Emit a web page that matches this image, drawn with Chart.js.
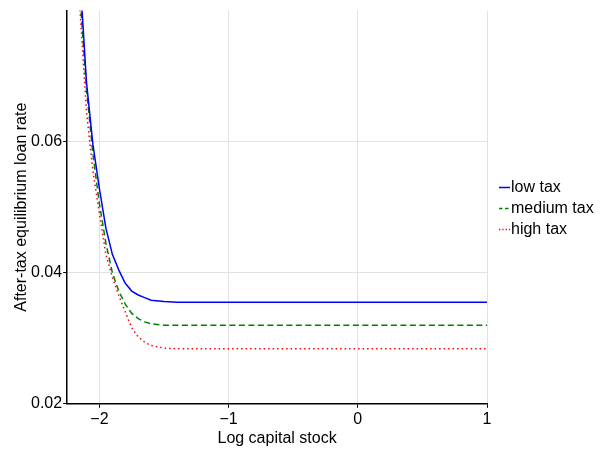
<!DOCTYPE html>
<html>
<head>
<meta charset="utf-8">
<script src="https://cdn.jsdelivr.net/npm/chart.js@4/dist/chart.umd.min.js"></script>
<style>
  html, body { margin: 0; padding: 0; background: #ffffff; }
  #wrap { width: 605px; height: 451px; position: relative; }
</style>
</head>
<body>
<div id="wrap"><canvas id="c" width="605" height="451"></canvas></div>
<script>
// Log capital stock grid
const logCapital = [-2.2, -2.15, -2.1, -2.05, -2.0, -1.95, -1.9, -1.85, -1.8, -1.75, -1.7, -1.65, -1.6,
  -1.5, -1.4, -1.2, -1.0, -0.8, -0.6, -0.4, -0.2, 0.0, 0.2, 0.4, 0.6, 0.8, 1.0];

// After-tax equilibrium loan rate by tax regime
const lowTax = [0.100, 0.085, 0.069, 0.0595, 0.0528, 0.0468, 0.0428, 0.0404, 0.0384, 0.0372, 0.0366, 0.0362, 0.0358,
  0.0356, 0.0355, 0.0355, 0.0355, 0.0355, 0.0355, 0.0355, 0.0355, 0.0355, 0.0355, 0.0355, 0.0355, 0.0355, 0.0355];
const mediumTax = [0.100, 0.082, 0.068, 0.058, 0.0505, 0.0445, 0.0400, 0.0372, 0.0352, 0.0338, 0.0330, 0.0325, 0.0322,
  0.0320, 0.0320, 0.0320, 0.0320, 0.0320, 0.0320, 0.0320, 0.0320, 0.0320, 0.0320, 0.0320, 0.0320, 0.0320, 0.0320];
const highTax = [0.100, 0.080, 0.0645, 0.0555, 0.0490, 0.0428, 0.0393, 0.0365, 0.0340, 0.0316, 0.0302, 0.0294, 0.0289,
  0.0285, 0.0284, 0.0284, 0.0284, 0.0284, 0.0284, 0.0284, 0.0284, 0.0284, 0.0284, 0.0284, 0.0284, 0.0284, 0.0284];

const xTicks = [-2, -1, 0, 1];
const yTicks = [0.02, 0.04, 0.06];
const seriesNames = ['low tax', 'medium tax', 'high tax'];

function pairs(ys) {
  return logCapital.map((x, i) => ({ x: x, y: ys[i] }));
}

const FONT = '"Liberation Sans", Arial, Helvetica, sans-serif';
const GRID = '#e2e2e2';

// Compact legend to the right of the plot: short line sample followed by the label
const sideLegend = {
  id: 'sideLegend',
  afterDraw(chart) {
    const ctx = chart.ctx;
    const area = chart.chartArea;
    const x0 = area.right + 12;
    const rowGap = 21;
    const mid = (area.top + area.bottom) / 2 + 1;
    const n = chart.data.datasets.length;
    ctx.save();
    ctx.font = '16px ' + FONT;
    ctx.textBaseline = 'middle';
    ctx.textAlign = 'left';
    chart.data.datasets.forEach((ds, i) => {
      const y = Math.round(mid + (i - (n - 1) / 2) * rowGap) + 0.5;
      ctx.strokeStyle = ds.borderColor;
      ctx.lineWidth = ds.borderWidth;
      ctx.setLineDash(ds.legendDash || []);
      ctx.beginPath();
      ctx.moveTo(x0, y);
      ctx.lineTo(x0 + 11, y);
      ctx.stroke();
      ctx.setLineDash([]);
      ctx.fillStyle = '#000';
      ctx.fillText(ds.label, x0 + 12, y);
    });
    ctx.restore();
  }
};

new Chart(document.getElementById('c'), {
  type: 'line',
  data: {
    datasets: [
      { label: seriesNames[0], data: pairs(lowTax), borderColor: '#0000ff', borderWidth: 1.5, borderDash: [], legendDash: [], pointRadius: 0, tension: 0, fill: false },
      { label: seriesNames[1], data: pairs(mediumTax), borderColor: '#008000', borderWidth: 1.5, borderDash: [6, 3.5], legendDash: [3.5, 2.5], pointRadius: 0, tension: 0, fill: false },
      { label: seriesNames[2], data: pairs(highTax), borderColor: '#ff0000', borderWidth: 1.5, borderDash: [1.5, 3], legendDash: [1.3, 2], pointRadius: 0, tension: 0, fill: false }
    ]
  },
  plugins: [sideLegend],
  options: {
    responsive: false,
    animation: false,
    events: [],
    layout: { padding: { top: 0, right: 118, bottom: 4, left: 12 } },
    plugins: {
      tooltip: { enabled: false },
      legend: { display: false }
    },
    scales: {
      x: {
        type: 'linear',
        min: -2.25,
        max: 1,
        afterBuildTicks: (s) => { s.ticks = xTicks.map(v => ({ value: v })); },
        ticks: {
          color: '#000',
          font: { family: FONT, size: 16 },
          padding: 2,
          maxRotation: 0,
          callback: (v) => (v < 0 ? '\u2212' + Math.abs(v) : String(v))
        },
        grid: { color: GRID, lineWidth: 1, tickColor: '#000', tickLength: 4, drawTicks: true },
        border: { display: true, color: '#000', width: 1.5 },
        title: { display: true, text: 'Log capital stock', color: '#000', font: { family: FONT, size: 16, lineHeight: 1 }, padding: { top: 0, bottom: 0 } }
      },
      y: {
        type: 'linear',
        min: 0.02,
        max: 0.08,
        afterBuildTicks: (s) => { s.ticks = yTicks.map(v => ({ value: v })); },
        ticks: {
          color: '#000',
          font: { family: FONT, size: 16 },
          padding: 1,
          callback: (v) => v.toFixed(2)
        },
        grid: { color: GRID, lineWidth: 1, tickColor: '#000', tickLength: 4, drawTicks: true },
        border: { display: true, color: '#000', width: 1.5 },
        title: { display: true, text: 'After-tax equilibrium loan rate', color: '#000', font: { family: FONT, size: 16, lineHeight: 1 }, padding: { top: 2, bottom: 0 } }
      }
    }
  }
});
</script>
</body>
</html>
